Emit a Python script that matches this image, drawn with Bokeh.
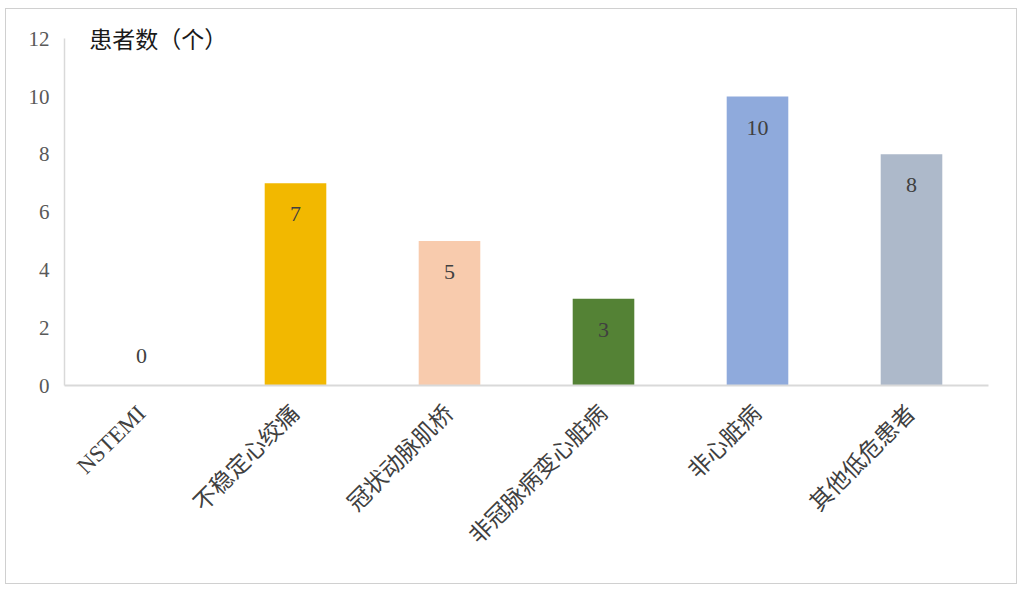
import math
from bokeh.plotting import figure
from bokeh.models import FactorRange, Range1d, ColumnDataSource, Label, FixedTicker
from bokeh.embed import file_html
from bokeh.resources import INLINE
from bokeh.core.properties import value

categories = ["NSTEMI", "不稳定心绞痛", "冠状动脉肌桥", "非冠脉病变心脏病", "非心脏病", "其他低危患者"]
counts = [0, 7, 5, 3, 10, 8]
colors = ["#4472C4", "#F2B800", "#F8CBAD", "#548235", "#8FAADC", "#ADB9CA"]
y_ticks = [0, 2, 4, 6, 8, 10, 12]
title_text = "患者数（个）"

FONT = "Liberation Serif, Noto Sans CJK SC"

src = ColumnDataSource(dict(
    cat=categories,
    cnt=counts,
    color=colors,
    label=[str(c) for c in counts],
    yoff=[31 if c > 0 else -30 for c in counts],
))

p = figure(
    x_range=FactorRange(*categories, range_padding=0),
    y_range=Range1d(0, 12.7),
    width=1012, height=576,
    output_backend="svg", toolbar_location=None,
    min_border_left=58, min_border_right=30, min_border_top=9, min_border_bottom=200,
    styles={"border": "1px solid #d0d0d0", "margin-left": "5px", "margin-top": "8px"},
)
p.outline_line_color = None
p.xgrid.grid_line_color = None
p.ygrid.grid_line_color = None

p.vbar(x="cat", top="cnt", width=0.4, color="color", line_color=None, source=src)
p.text(x="cat", y="cnt", text="label", y_offset="yoff", source=src,
       text_align="center", text_baseline="middle",
       text_font=value(FONT), text_font_size="22px", text_color="#404040")

p.yaxis.ticker = FixedTicker(ticks=y_ticks)
p.yaxis.bounds = (0, 12)
p.yaxis.axis_line_color = "#d9d9d9"
p.yaxis.axis_line_width = 1.5
p.yaxis.major_tick_line_color = None
p.yaxis.minor_tick_line_color = None
p.yaxis.major_label_standoff = 9
p.yaxis.major_label_text_font = FONT
p.yaxis.major_label_text_font_size = "21px"
p.yaxis.major_label_text_color = "#595959"

p.xaxis.axis_line_color = "#d9d9d9"
p.xaxis.axis_line_width = 2
p.xaxis.major_tick_line_color = None
p.xaxis.minor_tick_line_color = None
p.xaxis.major_label_orientation = math.pi / 4
p.xaxis.major_label_standoff = 18
p.xaxis.major_label_text_font = FONT
p.xaxis.major_label_text_font_size = "23px"
p.xaxis.major_label_text_color = "#404040"

title = Label(x=0.16, y=12, text=title_text, text_baseline="middle", y_offset=-2,
              text_font=FONT, text_font_size="23px", text_color="#1a1a1a")
p.add_layout(title)

open("out.html", "w").write(file_html(p, INLINE))
